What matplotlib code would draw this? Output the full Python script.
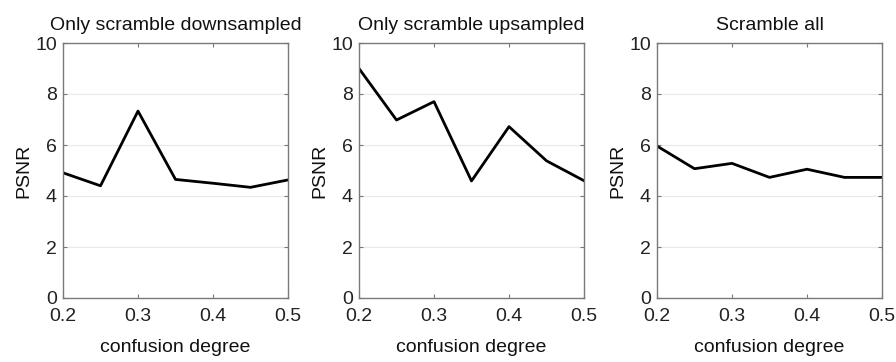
import matplotlib
matplotlib.use("Agg")
import matplotlib.pyplot as plt

plt.rcParams['font.family'] = ['Liberation Sans', 'DejaVu Sans']

x = [0.2, 0.25, 0.3, 0.35, 0.4, 0.45, 0.5]
titles = ["Only scramble downsampled", "Only scramble upsampled", "Scramble all"]
down = [4.91, 4.40, 7.33, 4.65, 4.50, 4.34, 4.63]
up = [9.0, 6.98, 7.70, 4.59, 6.72, 5.38, 4.60]
allv = [5.96, 5.07, 5.28, 4.73, 5.05, 4.73, 4.73]
series = [down, up, allv]
xticks = [0.2, 0.3, 0.4, 0.5]
yticks = [0, 2, 4, 6, 8, 10]

fig = plt.figure(figsize=(8.96, 3.62), dpi=100)
lefts = [63, 359, 657]
W = 896; H = 362
for i in range(3):
    l = lefts[i] / W
    w = 225 / W
    b = (H - 298) / H
    h = 255 / H
    ax = fig.add_axes([l, b, w, h])
    ax.plot(x, series[i], color='black', lw=2)
    ax.set_xlim(0.2, 0.5)
    ax.set_ylim(0, 10)
    ax.set_xticks(xticks)
    ax.set_xticklabels([f"{t:g}" for t in xticks])
    ax.set_yticks(yticks)
    ax.grid(axis='y', color='#e8e8e8', lw=0.8)
    ax.set_axisbelow(True)
    for s in ax.spines.values():
        s.set_color('#7a7a7a')
        s.set_linewidth(1.0)
    ax.tick_params(direction='in', top=True, right=True, length=3,
                   color='#7a7a7a', labelsize=14, labelcolor='#222222')
    ax.tick_params(axis='x', pad=7)
    ax.tick_params(axis='y', pad=4.5)
    ax.set_title(titles[i], fontsize=14, pad=9.5, color='#111111')
    ax.set_ylabel("PSNR", fontsize=14, labelpad=2, color='#111111')
    ax.set_xlabel("confusion degree", fontsize=14, labelpad=10, color='#111111')

fig.savefig("out.png", dpi=100)
